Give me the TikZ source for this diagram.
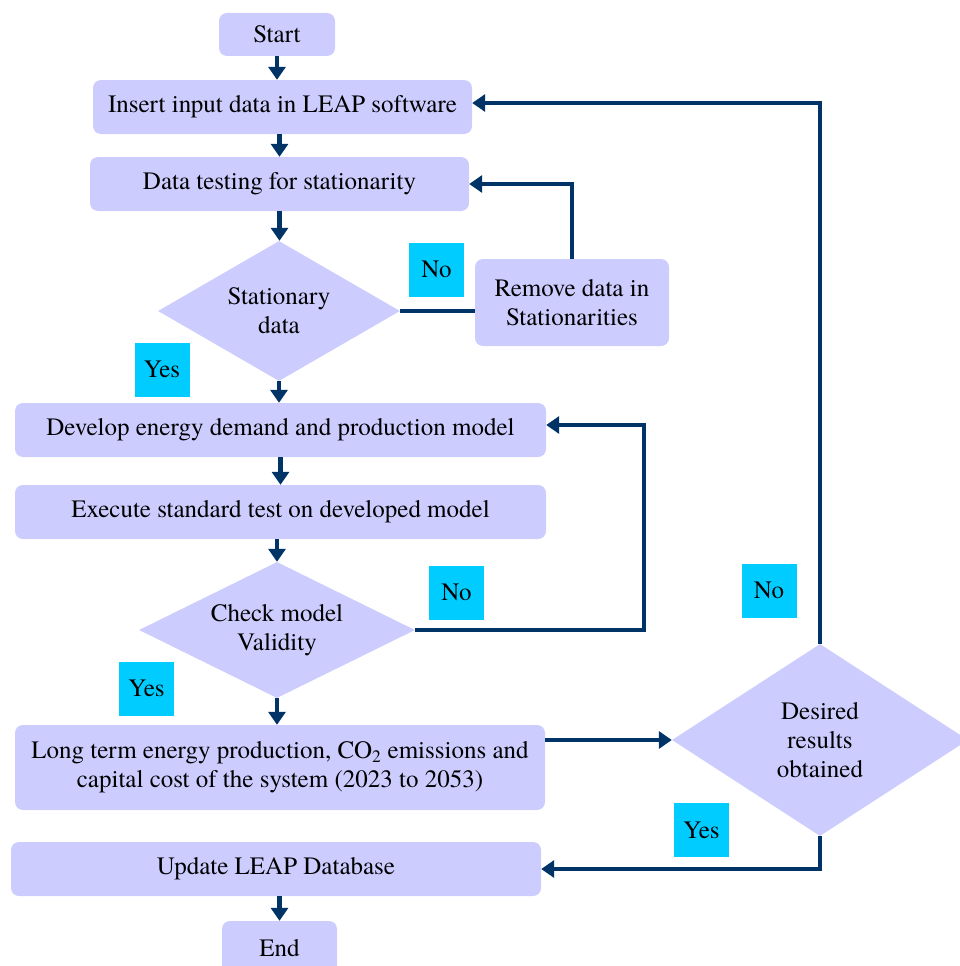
\documentclass[tikz,border=0pt]{standalone}
\usepackage{fontspec}
\setmainfont{TeX Gyre Termes}
\usetikzlibrary{shapes.geometric, arrows.meta, positioning, calc}
\definecolor{lavender}{RGB}{204,204,255}
\definecolor{navy}{RGB}{0,51,102}
\definecolor{tagcyan}{RGB}{0,204,255}

\begin{document}
\begin{tikzpicture}[
    x=1pt, y=-1pt,
    font=\fontsize{25}{29}\selectfont,
    box/.style={rectangle, fill=lavender, rounded corners=8pt, align=center, inner sep=0pt},
    decision/.style={diamond, fill=lavender, align=center, inner sep=0pt},
    tag/.style={rectangle, fill=tagcyan, minimum width=55pt, minimum height=54pt, inner sep=0pt},
    arrow/.style={-{Triangle[width=17pt,length=13pt]}, line width=4.5pt, navy},
    link/.style={line width=4.5pt, navy}
]
\useasboundingbox (0,0) rectangle (959,966);

% Main column
\node[box, minimum width=116pt, minimum height=43pt] (start) at (277,34.5) {Start};
\node[box, minimum width=379pt, minimum height=54pt] (insert) at (282.5,107) {Insert input data in LEAP software};
\node[box, minimum width=379pt, minimum height=54pt] (testing) at (279.5,184) {Data testing for stationarity};
\node[decision, minimum width=242pt, minimum height=140pt, aspect=1.7] (stationary) at (279,311) {Stationary\\data};
\node[box, minimum width=194pt, minimum height=87pt] (remove) at (572,302.5) {Remove data in\\Stationarities};
\node[box, minimum width=531pt, minimum height=54pt] (develop) at (280.5,430) {Develop energy demand and production model};
\node[box, minimum width=531pt, minimum height=54pt] (execute) at (280.5,512) {Execute standard test on developed model};
\node[decision, minimum width=276pt, minimum height=136pt, aspect=2] (check) at (277,630) {Check model\\Validity};
\node[box, minimum width=530pt, minimum height=85pt] (longterm) at (280,767.5) {Long term energy production, CO\textsubscript{2} emissions and\\capital cost of the system (2023 to 2053)};
\node[decision, minimum width=296pt, minimum height=192pt, aspect=1.5] (desired) at (820,740) {Desired\\results\\obtained};
\node[box, minimum width=530pt, minimum height=54pt] (update) at (276,869) {Update LEAP Database};
\node[box, minimum width=115pt, minimum height=54pt] (finish) at (279.5,948) {End};

% Labels
\node[tag] (tagA) at (436.5,269.5) {No};
\node[tag] (tagB) at (162,369.5) {Yes};
\node[tag] (tagC) at (456.5,592.5) {No};
\node[tag] (tagD) at (146.5,688.5) {Yes};
\node[tag] (tagE) at (769,590.5) {No};
\node[tag] (tagF) at (701.5,830) {Yes};

% Loop corners
\coordinate (loopA) at (644,0);
\coordinate (devin) at ([yshift=5pt]develop.east);
\coordinate (insin) at ([yshift=4pt]insert.east);

% Arrows
\draw[arrow] (start.south) -- (start.south |- insert.north);
\draw[arrow] (insert.south -| testing.north) -- (testing.north);
\draw[arrow] (testing.south) -- (testing.south |- stationary.north);
\draw[arrow] (stationary.south) -- (stationary.south |- develop.north);
\draw[arrow] (develop.south) -- (execute.north);
\draw[arrow] (execute.south -| check.north) -- (check.north);
\draw[arrow] (check.south) -- (check.south |- longterm.north);
\draw[arrow] (update.south -| finish.north) -- (finish.north);
\draw[link] (stationary.east) -- (remove.west |- stationary.east);
\draw[arrow] (remove.north) |- (testing.east);
\draw[arrow] (check.east) -| (loopA |- devin) -- (devin);
\draw[arrow] (longterm.east |- desired.west) -- (desired.west);
\draw[arrow] (desired.north) |- (insin);
\draw[arrow] (desired.south) |- (update.east);

\end{tikzpicture}
\end{document}
